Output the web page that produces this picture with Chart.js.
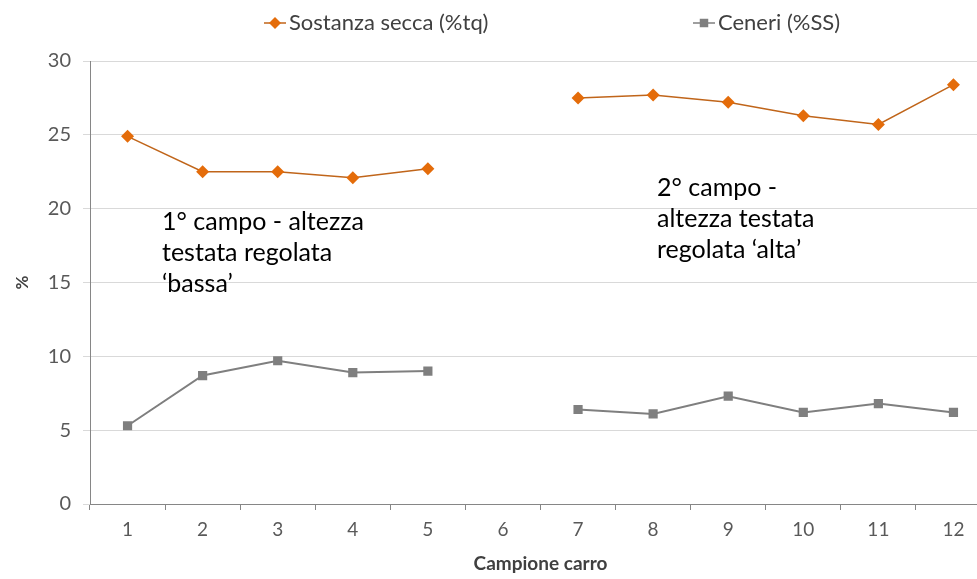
<!DOCTYPE html>
<html lang="it">
<head>
  <meta charset="UTF-8" />
  <title>Sostanza secca e ceneri</title>
  <script src="https://cdn.jsdelivr.net/npm/chart.js"></script>
  <style>
    html, body {
      margin: 0;
      padding: 0;
      background: #fff;
      overflow: hidden;
    }
    .wrap {
      position: absolute;
      left: 0;
      top: 0;
      width: 1000px;
      height: 579px;
    }
  </style>
</head>
<body>
<div class="wrap"><canvas id="chart"></canvas></div>

<script>
  // data
  const campioni = ['1', '2', '3', '4', '5', '6', '7', '8', '9', '10', '11', '12'];
  const sostanzaSecca = [24.9, 22.5, 22.5, 22.1, 22.7, null, 27.5, 27.7, 27.2, 26.3, 25.7, 28.4];
  const ceneri = [5.3, 8.7, 9.7, 8.9, 9.0, null, 6.4, 6.1, 7.3, 6.2, 6.8, 6.2];
  const yTicks = [0, 5, 10, 15, 20, 25, 30];

  const ORANGE = '#E46C0A';
  const GREY = '#7F7F7F';
  const FONT = 'Lato, "Open Sans", sans-serif';

  // legend with line + marker, like the original
  const legendPlugin = {
    id: 'lineLegend',
    afterDraw(chart) {
      const ctx = chart.ctx;
      const items = [
        { text: 'Sostanza secca (%tq)', x: 264, color: ORANGE, lineColor: '#C0651A', style: 'rectRot' },
        { text: 'Ceneri (%SS)', x: 693, color: GREY, lineColor: GREY, style: 'rect' }
      ];
      ctx.save();
      ctx.font = '22px ' + FONT;
      ctx.textBaseline = 'middle';
      items.forEach(it => {
        const y = 23;
        ctx.strokeStyle = it.lineColor;
        ctx.lineWidth = 1.5;
        ctx.beginPath();
        ctx.moveTo(it.x, y);
        ctx.lineTo(it.x + 22, y);
        ctx.stroke();
        ctx.fillStyle = it.color;
        Chart.helpers.drawPoint(ctx, { pointStyle: it.style, radius: 6, borderWidth: 0 }, it.x + 11, y);
        ctx.fillStyle = '#404040';
        ctx.fillText(it.text, it.x + 25, y);
      });
      ctx.restore();
    }
  };

  // the two text boxes inside the plot
  const notesPlugin = {
    id: 'notes',
    afterDraw(chart) {
      const ctx = chart.ctx;
      ctx.save();
      ctx.font = '25px ' + FONT;
      ctx.fillStyle = '#000';
      ctx.textBaseline = 'middle';
      ['1° campo - altezza', 'testata regolata', '‘bassa’'].forEach((t, i) => {
        ctx.fillText(t, 162, 222 + i * 31);
      });
      ['2° campo -', 'altezza testata', 'regolata ‘alta’'].forEach((t, i) => {
        ctx.fillText(t, 657, 188 + i * 31);
      });
      ctx.restore();
    }
  };

  new Chart(document.getElementById('chart'), {
    type: 'line',
    data: {
      labels: campioni,
      datasets: [
        {
          label: 'Sostanza secca (%tq)',
          data: sostanzaSecca,
          borderColor: '#C0651A',
          borderWidth: 1.5,
          backgroundColor: ORANGE,
          pointBackgroundColor: ORANGE,
          pointBorderColor: ORANGE,
          pointStyle: 'rectRot',
          pointRadius: 6.5,
          pointBorderWidth: 0,
          spanGaps: false,
          tension: 0
        },
        {
          label: 'Ceneri (%SS)',
          data: ceneri,
          borderColor: GREY,
          borderWidth: 2,
          backgroundColor: GREY,
          pointBackgroundColor: GREY,
          pointBorderColor: GREY,
          pointStyle: 'rect',
          pointRadius: 6.5,
          pointBorderWidth: 0,
          spanGaps: false,
          tension: 0
        }
      ]
    },
    options: {
      responsive: true,
      maintainAspectRatio: false,
      animation: false,
      layout: { padding: { top: 61, right: 9, left: 0, bottom: 0 } },
      plugins: {
        legend: { display: false },
        tooltip: { enabled: false }
      },
      scales: {
        x: {
          offset: true,
          grid: {
            offset: true,
            drawOnChartArea: false,
            color: '#868686',
            tickLength: 6
          },
          border: { color: '#868686', width: 1 },
          ticks: {
            color: '#595959',
            font: { family: FONT, size: 19 },
            padding: 8,
            maxRotation: 0
          },
          title: {
            display: true,
            text: 'Campione carro',
            color: '#404040',
            font: { family: FONT, size: 19, weight: 'bold' },
            padding: { top: 2 }
          },
          afterFit(scale) { scale.height = 75; }
        },
        y: {
          min: 0,
          max: 30,
          afterBuildTicks(scale) { scale.ticks = yTicks.map(v => ({ value: v })); },
          grid: {
            color: '#D9D9D9',
            tickLength: 7,
            lineWidth: 1
          },
          border: { color: '#868686', width: 1 },
          ticks: {
            color: '#595959',
            font: { family: FONT, size: 20 },
            padding: 12
          },
          title: {
            display: true,
            text: '%',
            color: '#404040',
            font: { family: FONT, size: 17, weight: 'bold' },
            padding: { top: 12, bottom: 0 }
          },
          afterFit(scale) { scale.width = 90; }
        }
      }
    },
    plugins: [legendPlugin, notesPlugin]
  });
</script>
</body>
</html>
